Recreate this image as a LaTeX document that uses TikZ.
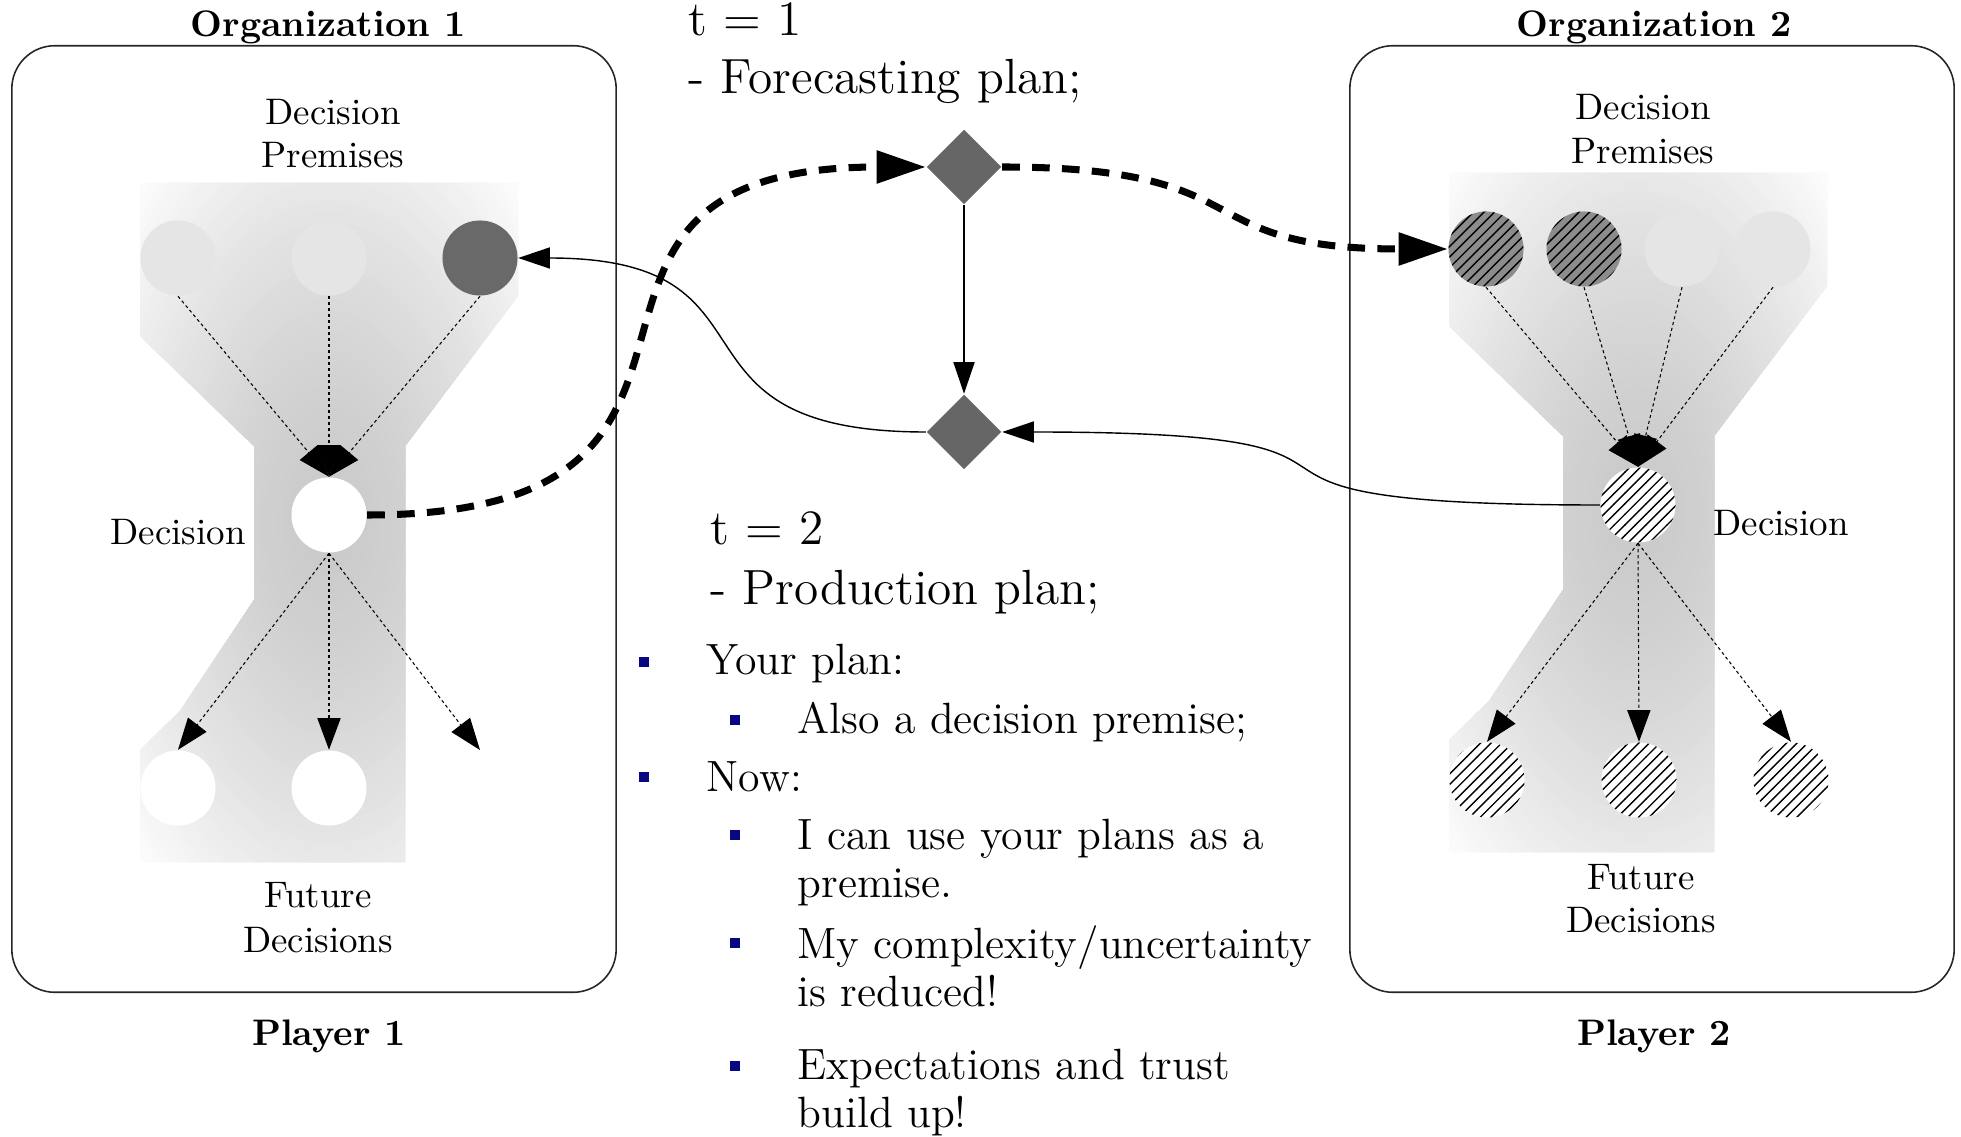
\documentclass[tikz,border=0pt]{standalone}
\usepackage{fontspec}
\usetikzlibrary{arrows.meta,shapes.geometric,patterns}
\definecolor{bnavy}{RGB}{8,8,130}
\begin{document}
\begin{tikzpicture}[x=0.01cm,y=-0.01cm,
  lbl/.style={font=\fontsize{10.5}{12.6}\selectfont, inner sep=0pt, anchor=base},
  ttl/.style={font=\fontsize{10.5}{12.6}\selectfont\bfseries, inner sep=0pt, anchor=base},
  head/.style={font=\fontsize{14.05}{16}\selectfont, inner sep=0pt, anchor=base west},
  lst/.style={font=\fontsize{12.45}{14}\selectfont, inner sep=0pt, anchor=base west},
  bul/.style={fill=bnavy, minimum size=0.105cm, inner sep=0pt},
  circ/.style={circle, minimum size=0.75cm, inner sep=0pt},
  prem/.style={circ, fill=black!10},
  hatch/.style={circ, preaction={fill=#1}, pattern=north east lines},
  dia/.style={diamond, aspect=1, minimum size=0.75cm, inner sep=0pt, fill=black!60},
  orgbox/.style={draw=black!85, line width=0.45pt, rounded corners=0.43cm, minimum width=6.04cm, minimum height=9.46cm, inner sep=0pt},
  flow/.style={line width=0.3pt, dash pattern=on 0.9pt off 0.8pt, -{Triangle[length=9pt,width=6.6pt]}},
  big/.style={line width=2pt, dash pattern=on 5pt off 3.5pt, -{Triangle[length=14pt,width=9pt]}},
  link/.style={line width=0.4pt, -{Triangle[length=9pt,width=6pt]}}
]
\useasboundingbox (0,0) rectangle (1961,1137);

% funnels (banded elliptical gradient clipped to the funnel outline)
\foreach \dx/\dy in {0/0, 1309/-10} {
\begin{scope}[shift={(\dx,\dy)}]
\clip (140,183) -- (518,183) -- (518,296) -- (405,446) -- (405,862) -- (140,862) -- (140,750) -- (180,711) -- (254,600) -- (254,446) -- (140,336) -- cycle;
\foreach \k in {0,...,44} {
  \pgfmathsetmacro\rr{1.1-\k/44}
  \pgfmathsetmacro\cc{max(1,min(21,21-20*(max(\rr,0.02))^1.5))}
  \fill[black!\cc] (329,522) ellipse ({270*max(\rr,0.02)} and {480*max(\rr,0.02)});
}
\end{scope}
}

% boxes
\node[orgbox] (org1) at (314,519) {};
\node[orgbox] (org2) at (1652,519) {};

% titles
\node[ttl] (o1) at (328,37) {Organization 1};
\node[ttl] (o2) at (1654,37) {Organization 2};
\node[ttl] (pl1) at (329,1045) {Player 1};
\node[ttl] (pl2) at (1654,1045) {Player 2};

% labels left
\node[lbl] (dpa1) at (333,125) {Decision};
\node[lbl] (dpb1) at (333,168) {Premises};
\node[lbl] (dl1) at (178,545) {Decision};
\node[lbl] (fda1) at (318,907) {Future};
\node[lbl] (fdb1) at (318,952) {Decisions};
% labels right
\node[lbl] (dpa2) at (1643,120) {Decision};
\node[lbl] (dpb2) at (1643,164) {Premises};
\node[lbl] (dl2) at (1781,536) {Decision};
\node[lbl] (fda2) at (1641,889) {Future};
\node[lbl] (fdb2) at (1641,932) {Decisions};

% left circles
\node[prem] (p11) at (178,258) {};
\node[prem] (p12) at (329,258) {};
\node[circ, fill=black!59] (p13) at (480,258) {};
\node[circ, fill=white] (d1) at (329,515) {};
\node[circ, fill=white] (f11) at (178,788) {};
\node[circ, fill=white] (f12) at (329,788) {};
\coordinate (f13) at (480,750);

% right circles
\node[hatch=black!45] (p21) at (1486,249) {};
\node[hatch=black!45] (p22) at (1584,249) {};
\node[prem] (p23) at (1682,249) {};
\node[prem] (p24) at (1773,249) {};
\node[hatch=white] (d2) at (1638,505) {};
\node[hatch=white] (f21) at (1487,780) {};
\node[hatch=white] (f22) at (1639,780) {};
\node[hatch=white] (f23) at (1791,780) {};

% internal arrows
\foreach \p in {p11,p12,p13} \draw[flow] (\p.south) -- (d1.north);
\draw[flow] (d1.south) -- (f11.north);
\draw[flow] (d1.south) -- (f12.north);
\draw[flow] (d1.south) -- (f13);
\foreach \p in {p21,p22,p23,p24} \draw[flow] (\p.south) -- (d2.north);
\foreach \f in {f21,f22,f23} \draw[flow] (d2.south) -- (\f.north);

% diamonds
\node[dia] (fc) at (964,167) {};
\node[dia] (pp) at (964,432) {};

% connectors
\draw[link] (fc.south) -- (pp.north);
\draw[link] (pp.west) to[out=180,in=0,looseness=1.6] (p13.east);
\draw[link] (d2.west) to[out=180,in=0,looseness=2] (pp.east);
\draw[big] (d1.east) to[out=0,in=180,looseness=1.7] (fc.west);
\draw[big] (fc.east) to[out=0,in=180,looseness=1.5] (p21.west);

% middle texts
\node[head] (t1) at (688,36) {t = 1};
\node[head] (t1b) at (688,94) {- Forecasting plan;};
\node[head] (t2) at (710,545) {t = 2};
\node[head] (t2b) at (710,604) {- Production plan;};

\node[bul] (b1) at (644,662) {};
\node[lst] (i1) at (706,675) {Your plan:};
\node[bul] (b11) at (735,720) {};
\node[lst] (i11) at (797,733) {Also a decision premise;};
\node[bul] (b2) at (644,777) {};
\node[lst] (i2) at (706,791) {Now:};
\node[bul] (b21) at (735,835) {};
\node[lst] (i21a) at (797,849) {I can use your plans as a};
\node[lst] (i21b) at (797,897) {premise.};
\node[bul] (b22) at (735,943) {};
\node[lst] (i22a) at (797,958) {My complexity/uncertainty};
\node[lst] (i22b) at (797,1006) {is reduced!};
\node[bul] (b23) at (735,1066) {};
\node[lst] (i23a) at (797,1079) {Expectations and trust};
\node[lst] (i23b) at (797,1127) {build up!};
\end{tikzpicture}
\end{document}
